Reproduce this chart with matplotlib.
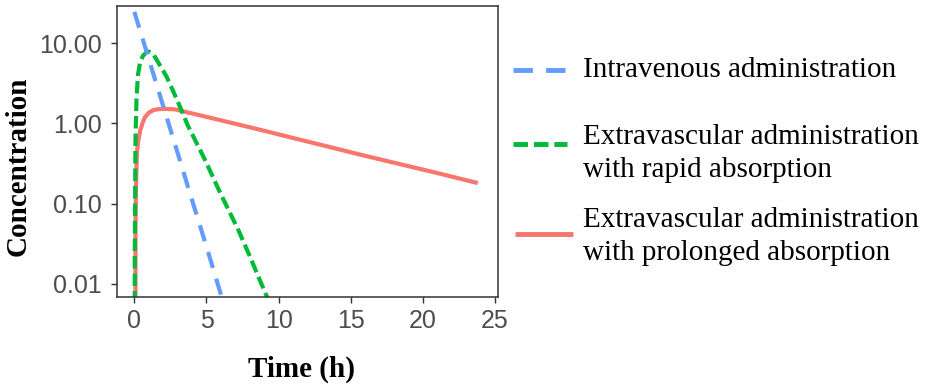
import numpy as np
import matplotlib
matplotlib.use('Agg')
import matplotlib.pyplot as plt
from matplotlib.lines import Line2D
from matplotlib.ticker import FixedLocator, FuncFormatter

##------------values----------------------------------------##
iv_time = [0, 1, 2, 3, 4, 5, 6, 6.5]
iv_conc = [24.8, 6.4, 1.65, 0.43, 0.11, 0.029, 0.0073, 0.0037]

rapid_time = [0, 0.03, 0.08, 0.15, 0.25, 0.4, 0.6, 0.8, 1.0, 1.3, 1.7,
              2.25, 3.0, 3.7, 4.9, 6.0, 7.2, 8.0, 8.7, 9.2, 9.6]
rapid_conc = [0, 0.02, 0.6, 2.0, 4.0, 5.8, 7.0, 7.6, 7.9, 7.4, 5.6,
              3.8, 1.9, 0.95, 0.35, 0.13, 0.047, 0.022, 0.011, 0.0068, 0.0045]

slow_time = [0, 0.08, 0.12, 0.18, 0.3, 0.41, 0.6, 0.76, 1.0, 1.33, 1.7, 2.2,
             2.8, 4.5, 7.0, 9.0, 11.5, 13.5, 15.6, 18.1, 21.0, 23.8]
slow_conc = [0, 0.05, 0.18, 0.44, 0.65, 0.82, 1.05, 1.21, 1.36, 1.47, 1.51, 1.52,
             1.5, 1.27, 0.99, 0.81, 0.625, 0.51, 0.41, 0.32, 0.24, 0.18]

labels = ['Intravenous administration',
          'Extravascular administration\nwith rapid absorption',
          'Extravascular administration\nwith prolonged absorption']
colors = ['#619CFF', '#00BA38', '#F8766D']

x_ticks = [0, 5, 10, 15, 20, 25]
y_ticks = [0.01, 0.1, 1, 10]

##------------styles-----------------##
blue_dash = (4, 2.7)
green_dash = (3, 1.2)
lw = 3
tick_grey = '#4d4d4d'
serif = 'Liberation Serif'
sans = 'Liberation Sans'

##------------figure-----------------##
fig = plt.figure(figsize=(9.3, 3.9), dpi=100)
ax = fig.add_axes([117/930, 1-297/390, (498-117)/930, (297-6)/390])

ax.plot(slow_time, slow_conc, color=colors[2], lw=lw, solid_capstyle='butt')
ax.plot(rapid_time, rapid_conc, color=colors[1], lw=lw, dashes=green_dash)
ax.plot(iv_time, iv_conc, color=colors[0], lw=lw, dashes=blue_dash)

ax.set_yscale('log', nonpositive='clip')
ax.set_xlim(-1.2, 25.2)
ax.set_ylim(0.0068, 29.3)
ax.xaxis.set_major_locator(FixedLocator(x_ticks))
ax.yaxis.set_major_locator(FixedLocator(y_ticks))
ax.yaxis.set_minor_locator(FixedLocator([]))
ax.yaxis.set_major_formatter(FuncFormatter(lambda v, p: '%.2f' % v))

for s in ax.spines.values():
	s.set_color('#333333')
	s.set_linewidth(1.1)
ax.tick_params(axis='both', which='major', direction='out', length=4, width=1,
               color='#333333', labelcolor=tick_grey, labelsize=18)
ax.tick_params(axis='y', pad=7)
ax.tick_params(axis='x', pad=5)
for lab in ax.get_xticklabels() + ax.get_yticklabels():
	lab.set_fontfamily(sans)

ax.set_xlabel('Time (h)', family=serif, fontweight='bold', fontsize=21)
ax.set_ylabel('Concentration', family=serif, fontweight='bold', fontsize=21)
ax.xaxis.set_label_coords(0.485, -0.2)
ax.yaxis.set_label_coords(-0.225, 0.45)

##------------legend drawn by hand-----------------##
W, H = 930.0, 390.0
legend_rows = [(70, 70, blue_dash, 513, 567),
               (144, 153.5, green_dash, 513, 567),
               (234, 236.5, None, 515, 573)]
for i, (ly, ty, dsh, x0, x1) in enumerate(legend_rows):
	kw = dict(color=colors[i], lw=3.5, transform=fig.transFigure)
	if dsh is not None:
		kw['dashes'] = dsh
	else:
		kw['solid_capstyle'] = 'butt'
	fig.add_artist(Line2D([x0/W, x1/W], [1-ly/H, 1-ly/H], **kw))
	fig.text(583/W, 1-ty/H, labels[i], family=serif, fontsize=21,
	         va='center', ha='left', linespacing=1.35)

plt.savefig('out.png', dpi=100)
